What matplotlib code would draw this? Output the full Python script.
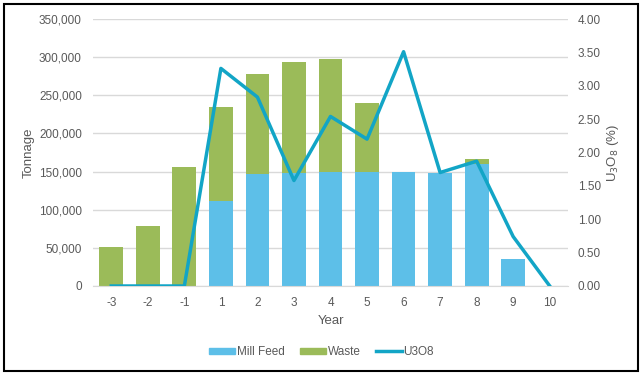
import matplotlib
matplotlib.use("Agg")
import matplotlib.pyplot as plt
from matplotlib.patches import Rectangle
from matplotlib.lines import Line2D
from matplotlib.ticker import FuncFormatter

plt.rcParams['font.family'] = ['Liberation Sans', 'DejaVu Sans']

years = ["-3", "-2", "-1", "1", "2", "3", "4", "5", "6", "7", "8", "9", "10"]
mill_feed = [0, 0, 0, 111000, 147000, 148000, 150000, 149000, 149000, 148000, 160000, 36000, 0]
waste = [51000, 79000, 156000, 123000, 131000, 146000, 148000, 91000, 0, 0, 6000, 0, 0]
u3o8 = [0, 0, 0, 3.26, 2.83, 1.58, 2.54, 2.20, 3.51, 1.70, 1.87, 0.74, 0.0]

blue = "#5DBFE8"
green = "#9BBB59"
line_c = "#12A5C6"
txt = "#595959"

fig = plt.figure(figsize=(6.43, 3.79), dpi=100)
ax = fig.add_axes([93/643, 1-286/379, (568-93)/643, (286-19)/379])
x = list(range(len(years)))
ax.bar(x, mill_feed, width=0.65, color=blue, zorder=2, label="Mill Feed")
ax.bar(x, waste, width=0.65, bottom=mill_feed, color=green, zorder=2, label="Waste")
ax.set_ylim(0, 350000)
ax.set_xlim(-0.5, len(years)-0.5)
ax.set_yticks(range(0, 350001, 50000))
ax.yaxis.set_major_formatter(FuncFormatter(lambda v, p: f"{int(v):,}"))
ax.set_xticks(x)
ax.set_xticklabels(years)
ax.grid(axis="y", color="#D9D9D9", lw=1, zorder=0)
for s in ["top", "right", "left"]:
    ax.spines[s].set_visible(False)
ax.spines["bottom"].set_color("#D9D9D9")
ax.tick_params(axis="y", length=0, colors=txt, labelsize=8.5, pad=8)
ax.tick_params(axis="x", length=0, colors=txt, labelsize=8.5, pad=8)
ax.set_ylabel("Tonnage", color=txt, fontsize=9.5, labelpad=3)
ax.set_xlabel("Year", color=txt, fontsize=9.5, labelpad=4)

ax2 = ax.twinx()
ax2.plot(x, u3o8, color=line_c, lw=2.5, zorder=3)
ax2.set_ylim(0, 4.0)
ax2.set_yticks([i*0.5 for i in range(9)])
ax2.yaxis.set_major_formatter(FuncFormatter(lambda v, p: f"{v:.2f}"))
for s in ["top", "right", "left", "bottom"]:
    ax2.spines[s].set_visible(False)
ax2.tick_params(length=0, colors=txt, labelsize=8.5, pad=7)
ax2.set_ylabel(r"U$_3$O$_8$ (%)", color=txt, fontsize=9.5, labelpad=3)

handles = [Rectangle((0, 0), 1, 1, color=blue), Rectangle((0, 0), 1, 1, color=green),
           Line2D([], [], color=line_c, lw=2.5)]
fig.legend(handles, ["Mill Feed", "Waste", "U3O8"], loc="center", bbox_to_anchor=(0.5, 1-352/379),
           ncol=3, frameon=False, fontsize=8.5, labelcolor=txt, handlelength=2.2, handleheight=0.45,
           columnspacing=1.3, handletextpad=0.15)

fig.add_artist(Rectangle((4/643, 1-371/379), (638-4)/643, (371-4)/379, transform=fig.transFigure,
                         fill=False, edgecolor="black", lw=1.5))
fig.savefig("out.png", dpi=100)
